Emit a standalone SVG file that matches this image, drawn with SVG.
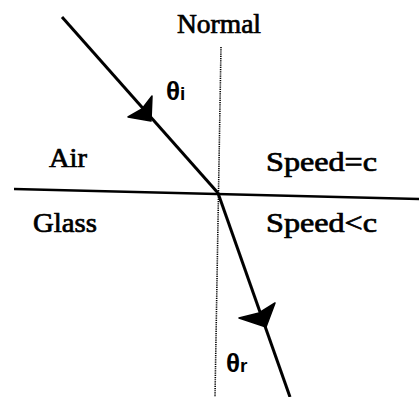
<svg xmlns="http://www.w3.org/2000/svg" width="419" height="397" viewBox="0 0 419 397">
<style>
.t{font-family:"Liberation Serif","Times New Roman",serif;font-size:27px;fill:#000;stroke:#000;stroke-width:0.7}
.g{font-family:"Liberation Sans",Arial,sans-serif;font-size:26px;fill:#000;font-weight:bold}
.ray{stroke:#000;stroke-width:3;fill:none}
.ah{fill:#000;stroke:#000;stroke-width:1.5;stroke-linejoin:round}
</style>
<rect width="419" height="397" fill="#fff"/>
<g id="connectors">
<line id="surface" x1="14" y1="189" x2="419" y2="199" stroke="#000" stroke-width="2.5"/>
<line id="normal" x1="221" y1="47" x2="215" y2="397" stroke="#000" stroke-width="1.6" stroke-dasharray="1.2,1"/>
<line id="incident" class="ray" x1="62" y1="17" x2="218" y2="193"/>
<line id="refracted" class="ray" x1="218" y1="193" x2="290" y2="397"/>
<path class="ah" d="M151,121 L152,96 L142,109 L128,117 Z"/>
<path class="ah" d="M266,327 L275,303 L259,313 L239,318 Z"/>
</g>
<g id="label-normal"><text class="t" x="177" y="33" textLength="84" lengthAdjust="spacingAndGlyphs">Normal</text></g>
<g id="label-air"><text class="t" x="49" y="167" textLength="38" lengthAdjust="spacingAndGlyphs">Air</text></g>
<g id="label-glass"><text class="t" x="33" y="232" textLength="64" lengthAdjust="spacingAndGlyphs">Glass</text></g>
<g id="label-speed-c"><text class="t" x="266" y="171" textLength="111" lengthAdjust="spacingAndGlyphs">Speed=c</text></g>
<g id="label-speed-lt"><text class="t" x="266" y="232" textLength="111" lengthAdjust="spacingAndGlyphs">Speed&lt;c</text></g>
<g id="label-theta-i"><text class="g" x="166" y="100">θ<tspan font-size="19">i</tspan></text></g>
<g id="label-theta-r"><text class="g" x="226" y="372">θ<tspan font-size="19">r</tspan></text></g>
</svg>
